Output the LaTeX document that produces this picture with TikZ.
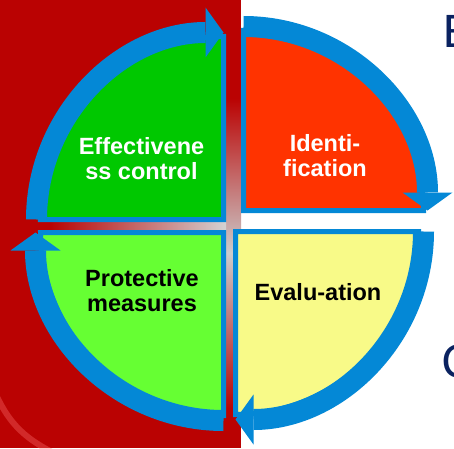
\documentclass[tikz,border=0pt]{standalone}
\usepackage{fontspec}
\setmainfont{Liberation Sans}
\newfontfamily\sidefont{Carlito}
\usetikzlibrary{arrows.meta}
\definecolor{bgred}{RGB}{186,2,2}
\definecolor{ringblue}{RGB}{4,136,214}
\definecolor{effgreen}{RGB}{0,200,0}
\definecolor{idred}{RGB}{255,51,0}
\definecolor{evyellow}{RGB}{248,250,136}
\definecolor{prgreen}{RGB}{102,255,51}
\definecolor{navy}{RGB}{10,34,96}
\tikzset{quad/.style = {draw=ringblue, line width=5pt}}
\tikzset{band/.style = {draw=ringblue, line width=21pt, -{Triangle[length=18pt, width=50pt, line width=0pt]}}}
\tikzset{lbl/.style = {font=\fontsize{23.5}{25}\selectfont\bfseries, align=center, inner sep=0pt}}
\tikzset{side/.style = {font=\sidefont\fontsize{50}{50}\selectfont, text=navy, inner sep=0pt, anchor=base west}}

\begin{document}
\begin{tikzpicture}[x=1pt,y=1pt]
    \useasboundingbox (0,0) rectangle (454,448);
    \clip (0,0) rectangle (454,448);
    % background photo
    \fill[white] (0,0) rectangle (454,448);
    \fill[bgred] (0,0) rectangle (241,448);
    \shade[top color=bgred, bottom color=bgred, middle color=gray!40] (226,40) rectangle (241,350);
    \shade[left color=bgred, right color=gray!35] (50,218) rectangle (226,226);
    \draw[red!55!white, opacity=0.35, line width=6pt] (-6,58) to[bend right=20] (52,-4);
    % quadrant corners
    \coordinate (tl) at (223.5,228.5);
    \coordinate (tr) at (243.5,237.5);
    \coordinate (br) at (235.5,216.5);
    \coordinate (bl) at (223.5,215.5);
    % quadrants
    \filldraw[quad, fill=effgreen] (tl) -- ++(180:183) arc (180:90:183) -- cycle;
    \filldraw[quad, fill=idred] (tr) -- ++(90:180) arc (90:0:180) -- cycle;
    \filldraw[quad, fill=evyellow] (br) -- ++(0:183) arc (0:-90:183) -- cycle;
    \filldraw[quad, fill=prgreen] (bl) -- ++(270:183) arc (270:180:183) -- cycle;
    % arrows round the ring
    \draw[band] (tl) ++(180:187) arc (180:90:187);
    \draw[band] (tr) ++(90:184) arc (90:0:184);
    \draw[band] (br) ++(0:188) arc (0:-90:188);
    \draw[band] (bl) ++(270:188) arc (270:180:188);
    % labels
    \node[lbl, text=white] (effect) at (141.5,289) {Effectivene\\ss control};
    \node[lbl, text=white] (ident) at (325,292) {Identi-\\fication};
    \node[lbl, anchor=base] (evalu) at (318,148) {Evalu-ation};
    \node[lbl] (protect) at (142,157.5) {Protective\\measures};
    % text cut off at the right edge
    \node[side] (e) at (443,400) {E};
    \node[side] (c) at (442,71) {C};
\end{tikzpicture}
\end{document}
